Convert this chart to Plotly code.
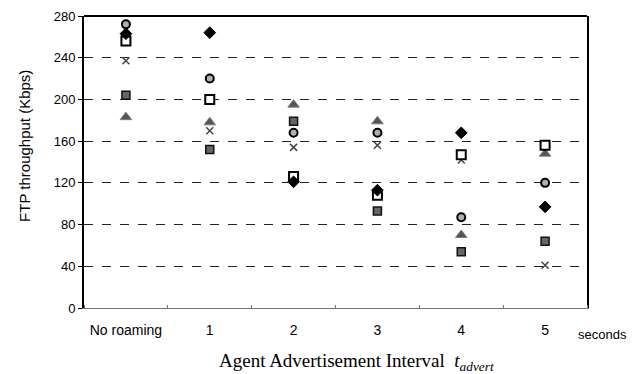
import plotly.graph_objects as go

categories = ["No roaming", "1", "2", "3", "4", "5"]
x_pos = [0, 1, 2, 3, 4, 5]

diamond_vals = [263, 264, 121, 113, 168, 97]
circle_vals = [272, 220, 168, 168, 87, 120]
open_square_vals = [256, 200, 126, 108, 147, 156]
cross_vals = [237, 170, 154, 156, 142, 41]
filled_square_vals = [204, 152, 179, 93, 54, 64]
triangle_vals = [183, 178, 195, 179, 70, 148]

y_ticks = [0, 40, 80, 120, 160, 200, 240, 280]

fig = go.Figure()

def add(vals, name, symbol, size, fill, lcolor, lwidth):
    fig.add_trace(go.Scatter(
        x=x_pos, y=vals, mode="markers", name=name,
        marker=dict(symbol=symbol, size=size, color=fill,
                    line=dict(color=lcolor, width=lwidth)),
        showlegend=False))

add(triangle_vals, "triangle", "triangle-up", 10, "#555555", "#7a7a7a", 1)
add(filled_square_vals, "filled square", "square", 8, "#666666", "#111111", 1.5)
add(cross_vals, "cross", "x-thin", 7, "#444444", "#444444", 1.5)
add(open_square_vals, "open square", "square", 9, "white", "black", 2)
add(circle_vals, "circle", "circle", 8, "#b0b0b0", "black", 2)
add(diamond_vals, "diamond", "diamond", 9, "black", "black", 1)

font_sans = "Liberation Sans, Arial, sans-serif"
font_serif = "Liberation Serif, Times New Roman, serif"

fig.update_layout(
    width=642, height=374,
    margin=dict(l=76, r=63, t=8, b=74),
    paper_bgcolor="white", plot_bgcolor="white",
    font=dict(family=font_sans, size=13, color="black"),
    xaxis=dict(
        range=[-0.5, 5.5], tickvals=x_pos, ticktext=categories,
        ticks="", showgrid=False, zeroline=False, automargin=False,
        showline=True, linecolor="#777777", linewidth=1,
        ticklabelstandoff=9,
        tickfont=dict(family=font_sans, size=14),
        minor=dict(tick0=0.5, dtick=1, ticks="inside", ticklen=3,
                   tickcolor="#777777", showgrid=False),
    ),
    yaxis=dict(
        range=[0, 280], tickvals=y_ticks, ticks="outside", ticklen=4,
        tickcolor="black", showgrid=True, gridcolor="#222222",
        griddash="dash", gridwidth=1, zeroline=False, automargin=False,
        showline=True, linecolor="black", linewidth=2, mirror=True,
        tickfont=dict(family=font_sans, size=13),
    ),
    shapes=[dict(type="line", xref="paper", yref="paper", x0=0, x1=1, y0=1, y1=1,
                 line=dict(color="black", width=2))],
    annotations=[
        dict(text="seconds", xref="paper", yref="paper", x=1.0, y=0,
             xanchor="center", yanchor="top", xshift=15, yshift=-17,
             showarrow=False, font=dict(family=font_sans, size=13)),
        dict(text="FTP throughput (Kbps)", xref="paper", yref="paper",
             x=0, y=0.555, xanchor="center", yanchor="middle", xshift=-59,
             textangle=-90, showarrow=False,
             font=dict(family=font_sans, size=15)),
        dict(text="Agent Advertisement Interval  <i>t<sub>advert</sub></i>",
             xref="paper", yref="paper", x=0.5, y=0, xanchor="center",
             yanchor="top", xshift=21, yshift=-40, showarrow=False,
             font=dict(family=font_serif, size=19)),
    ],
)

fig.write_html("out.html")
